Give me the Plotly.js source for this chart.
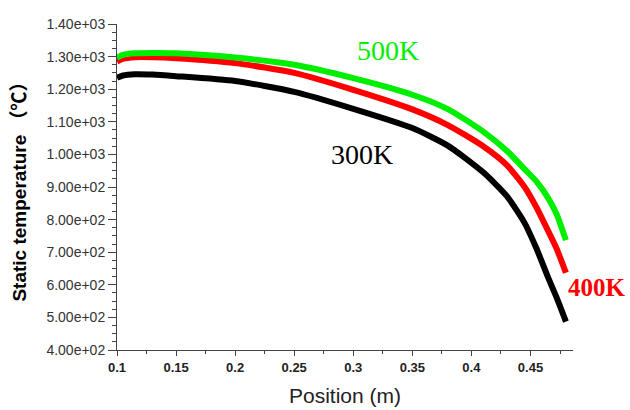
<!DOCTYPE html>
<html>
<head>
<meta charset="utf-8">
<script src="https://cdn.plot.ly/plotly-3.0.1.min.js"></script>
<style>html,body{margin:0;padding:0;background:#fff}#chart{width:630px;height:410px}</style>
</head>
<body>
<div id="chart"></div>
<script>
const position = [0.1, 0.105, 0.115, 0.13, 0.15, 0.2, 0.25, 0.3, 0.35, 0.38, 0.41, 0.43, 0.445, 0.455, 0.465, 0.472, 0.48];
const temp300K = [1235, 1242, 1246, 1245, 1240, 1225, 1192, 1140, 1081, 1027, 945, 872, 790, 712, 622, 562, 487];
const temp400K = [1285, 1293, 1298, 1298, 1295, 1280, 1250, 1198, 1138, 1090, 1025, 967, 900, 838, 765, 712, 637];
const temp500K = [1297, 1305, 1310, 1311, 1310, 1297, 1275, 1234, 1183, 1139, 1070, 1011, 955, 917, 866, 818, 737];
const seriesNames = ["300K", "400K", "500K"];
const yTickVals = [400, 500, 600, 700, 800, 900, 1000, 1100, 1200, 1300, 1400];
const yTickText = ["4.00e+02", "5.00e+02", "6.00e+02", "7.00e+02", "8.00e+02", "9.00e+02", "1.00e+03", "1.10e+03", "1.20e+03", "1.30e+03", "1.40e+03"];
const xTickVals = [0.1, 0.15, 0.2, 0.25, 0.3, 0.35, 0.4, 0.45];
const xTickText = ["0.1", "0.15", "0.2", "0.25", "0.3", "0.35", "0.4", "0.45"];

const mk = (y, color, name) => ({
  x: position, y: y, type: 'scatter', mode: 'lines', name: name,
  line: {color: color, width: 6, shape: 'spline', smoothing: 0.6},
  cliponaxis: false
});
const data = [
  mk(temp300K, '#000000', seriesNames[0]),
  mk(temp400K, '#ff0000', seriesNames[1]),
  mk(temp500K, '#00ee00', seriesNames[2])
];
const serif = 'Liberation Serif, Times New Roman, serif';
const layout = {
  width: 630, height: 410,
  margin: {l: 117, r: 57, t: 24, b: 60},
  paper_bgcolor: '#fff', plot_bgcolor: '#fff',
  showlegend: false,
  xaxis: {
    range: [0.1, 0.486], showgrid: false, zeroline: false,
    showline: true, linecolor: '#444', linewidth: 1,
    ticks: 'outside', ticklen: 5, tickcolor: '#444',
    tickvals: xTickVals, ticktext: xTickText,
    tickfont: {family: 'Liberation Sans, Arial, sans-serif', size: 13, color: '#222', weight: 'bold'},
    minor: {dtick: 0.025, ticks: 'outside', ticklen: 3, tickcolor: '#444'},
    title: {text: 'Position (m)', font: {family: 'Liberation Sans, Arial, sans-serif', size: 21, color: '#222'}, standoff: 14}
  },
  yaxis: {
    range: [400, 1400], showgrid: false, zeroline: false,
    showline: true, linecolor: '#444', linewidth: 1,
    ticks: 'outside', ticklen: 8, tickcolor: '#444',
    tickvals: yTickVals, ticktext: yTickText,
    tickfont: {family: 'Liberation Sans, Arial, sans-serif', size: 14, color: '#333'},
    minor: {dtick: 25, ticks: 'outside', ticklen: 4, tickcolor: '#444'},
    title: {text: 'Static temperature （℃）', font: {family: 'Liberation Sans, Noto Sans CJK SC, sans-serif', size: 19, color: '#000', weight: 'bold'}, standoff: 14}
  },
  annotations: [
    {x: 0.307, y: 1001, text: seriesNames[0], showarrow: false, font: {family: serif, size: 28, color: '#000'}},
    {xref: 'paper', yref: 'paper', x: 0.985, y: 0.193, xanchor: 'left', yanchor: 'middle', text: seriesNames[1], showarrow: false, font: {family: serif, size: 25, color: '#ff0000', weight: 'bold'}},
    {x: 0.329, y: 1320, text: seriesNames[2], showarrow: false, font: {family: serif, size: 28, color: '#00ee00'}}
  ]
};
Plotly.newPlot('chart', data, layout, {displayModeBar: false, staticPlot: true});
</script>
</body>
</html>
